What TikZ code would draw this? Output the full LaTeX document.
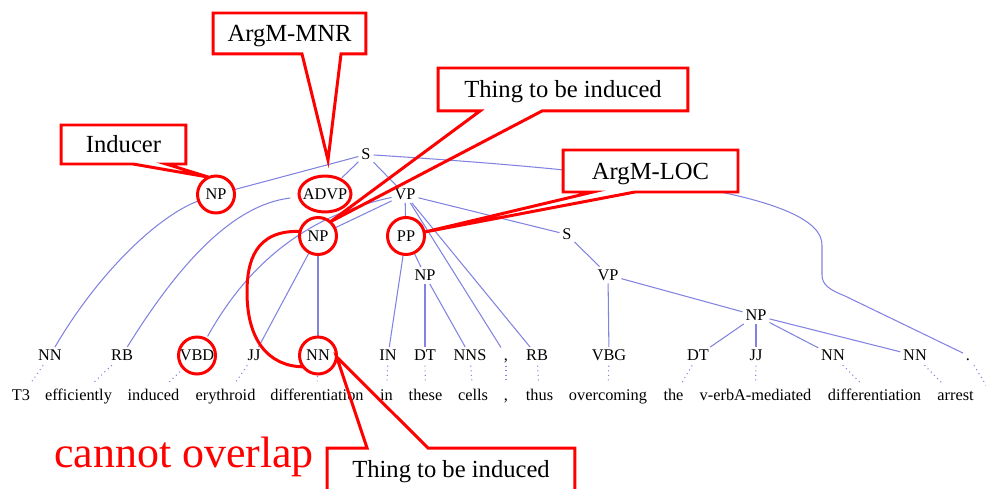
\documentclass[tikz,border=0pt]{standalone}
\usepackage{fontspec}
\setmainfont{Liberation Serif}
\usetikzlibrary{calc,shapes.geometric}
\definecolor{treeblue}{RGB}{130,130,225}
\tikzset{>=latex}
\tikzset{
    tag/.style={inner sep=1.5pt, text height=6.2pt, text depth=0pt, font=\fontsize{9.3}{11}\selectfont},
    ringed/.style={tag, circle, minimum size=0.74cm},
    word/.style={inner sep=1.5pt, text height=6.5pt, text depth=2pt, font=\fontsize{9.3}{11}\selectfont},
    branch/.style={treeblue, line width=0.6pt},
    leaf/.style={treeblue, line width=0.6pt, dotted, shorten <=1pt, shorten >=3pt},
    ring/.style={red, line width=1.7pt},
    calbox/.style={fill=white, inner sep=0pt, outer sep=0pt, text height=9.5pt, text depth=0pt, font=\fontsize{14}{16}\selectfont},
    callout/.style={red, line width=1.7pt}
}

\begin{document}
\begin{tikzpicture}[x=0.02cm, y=-0.02cm]
            \useasboundingbox (0,0) rectangle (986,489);
            % phrase nodes
            \node[tag] (s1) at (366,154.5) {S};
            \node[ringed] (np1) at (216,194.5) {NP};
            \node[tag, ellipse, minimum width=1.04cm, minimum height=0.72cm] (advp) at (325,194) {ADVP};
            \node[tag] (vp1) at (405,194.5) {VP};
            \node[ringed] (np2) at (318,236) {NP};
            \node[ringed] (pp) at (406,236) {PP};
            \node[tag] (np3) at (425,275.5) {NP};
            \node[tag] (s2) at (567,234.5) {S};
            \node[tag] (vp2) at (608,275) {VP};
            \node[tag] (np4) at (756,315.5) {NP};
            % part of speech
            \node[tag] (nn1) at (50,355.5) {NN};
            \node[tag] (rb1) at (122,355.5) {RB};
            \node[ringed] (vbd) at (197,355.5) {VBD};
            \node[tag] (jj1) at (254,355.5) {JJ};
            \node[ringed] (nn2) at (318,355.5) {NN};
            \node[tag] (inp) at (388,355.5) {IN};
            \node[tag] (dt1) at (425,355.5) {DT};
            \node[tag] (nns) at (470,355.5) {NNS};
            \node[tag] (comma) at (506,355.5) {,};
            \node[tag] (rb2) at (537,355.5) {RB};
            \node[tag] (vbg) at (609,355.5) {VBG};
            \node[tag] (dt2) at (698,355.5) {DT};
            \node[tag] (jj2) at (756,355.5) {JJ};
            \node[tag] (nn3) at (833,355.5) {NN};
            \node[tag] (nn4) at (915,355.5) {NN};
            \node[tag] (stop) at (968,355.5) {.};
            % words
            \node[word] (wt3) at (21,397) {T3};
            \node[word] (weff) at (78.5,397) {efficiently};
            \node[word] (wind) at (153.5,397) {induced};
            \node[word] (wery) at (225.5,397) {erythroid};
            \node[word] (wdiff) at (317,397) {differentiation};
            \node[word] (win) at (386.5,397) {in};
            \node[word] (wthese) at (425.5,397) {these};
            \node[word] (wcells) at (473,397) {cells};
            \node[word] (wcomma) at (506,397) {,};
            \node[word] (wthus) at (539.5,397) {thus};
            \node[word] (wover) at (608,397) {overcoming};
            \node[word] (wthe) at (673.5,397) {the};
            \node[word] (wverba) at (755.5,397) {v-erbA-mediated};
            \node[word] (wdiffb) at (874.5,397) {differentiation};
            \node[word] (warrest) at (955.5,397) {arrest};
            \coordinate (wstop) at (995,400);
            % branches
            \draw[branch] (s1) -- (np1);
            \draw[branch] (s1) -- (advp);
            \draw[branch] (s1) -- (vp1);
            \draw[branch] (s1) .. controls (640,172) and (822,195) .. (822,245) -- (822,275)
                .. controls (822,285) and (830,290) .. (845,296) -- (stop);
            \draw[branch] (np1) .. controls (160,215) and (100,270) .. (nn1);
            \draw[branch] (advp) .. controls (230,205) and (175,270) .. (rb1);
            \draw[branch] (vp1) .. controls (310,215) and (250,260) .. (vbd);
            \draw[branch] (vp1) -- (np2);
            \draw[branch] (vp1) -- (pp);
            \draw[branch] (vp1) -- (comma);
            \draw[branch] (vp1) -- (rb2);
            \draw[branch] (vp1) -- (s2);
            \draw[branch] (np2) -- (jj1);
            \draw[branch] (np2) -- (nn2);
            \draw[branch] (pp) -- (inp);
            \draw[branch] (pp) -- (np3);
            \draw[branch] (np3) -- (dt1);
            \draw[branch] (np3) -- (nns);
            \draw[branch] (s2) -- (vp2);
            \draw[branch] (vp2) -- (vbg);
            \draw[branch] (vp2) -- (np4);
            \draw[branch] (np4) -- (dt2);
            \draw[branch] (np4) -- (jj2);
            \draw[branch] (np4) -- (nn3);
            \draw[branch] (np4) -- (nn4);
            \foreach \p/\w in {nn1/wt3,rb1/weff,vbd/wind,jj1/wery,nn2/wdiff,inp/win,dt1/wthese,nns/wcells,comma/wcomma,rb2/wthus,vbg/wover,dt2/wthe,jj2/wverba,nn3/wdiffb,nn4/warrest,stop/wstop}
                \draw[leaf] (\p) -- (\w);
            % rings
            \foreach \n in {np1,np2,pp,vbd,nn2}
                \draw[ring] (\n.center) circle (18.5);
            \draw[ring] (advp.center) ellipse (26 and 18);
            \draw[ring] (np2.166) .. controls (255,230) and (247,262) .. (247,292)
                .. controls (247,340) and (268,366) .. (nn2.217);
            % callouts
            \coordinate (mnrtip) at (328,160);
            \node[calbox, minimum width=3.06cm, minimum height=0.82cm] (mnr) at (289.5,33.5) {ArgM-MNR};
            \node[calbox, minimum width=2.5cm, minimum height=0.78cm] (inducer) at (123.5,144.5) {Inducer};
            \node[calbox, minimum width=5cm, minimum height=0.86cm] (thinga) at (563,89.5) {Thing to be induced};
            \node[calbox, minimum width=3.5cm, minimum height=0.84cm] (loc) at (650.5,171) {ArgM-LOC};
            \node[calbox, minimum width=4.96cm, minimum height=0.86cm] (thingb) at (451,469.5) {Thing to be induced};
            \draw[callout] (mnr.south west) -- (mnr.north west) -- (mnr.north east) -- (mnr.south east)
                -- ($(mnr.south west)+(128,0)$) -- (mnrtip) -- ($(mnr.south west)+(89,0)$) -- cycle;
            \draw[callout] (inducer.south west) -- (inducer.north west) -- (inducer.north east) -- (inducer.south east)
                -- ($(inducer.south west)+(105,0)$) -- (np1.113) -- ($(inducer.south west)+(72,0)$) -- cycle;
            \draw[callout] (thinga.south west) -- (thinga.north west) -- (thinga.north east) -- (thinga.south east)
                -- ($(thinga.south west)+(104,0)$) -- (np2.49) -- ($(thinga.south west)+(42,0)$) -- cycle;
            \draw[callout] (loc.south west) -- (loc.north west) -- (loc.north east) -- (loc.south east)
                -- ($(loc.south west)+(72,0)$) -- (pp.12) -- ($(loc.south west)+(30,0)$) -- cycle;
            \draw[callout] (thingb.north west) -- ($(thingb.north west)+(40,0)$) -- (nn2.-5)
                -- ($(thingb.north west)+(101,0)$) -- (thingb.north east) -- (thingb.south east)
                -- (thingb.south west) -- cycle;
            \node[red, anchor=base, font=\fontsize{25}{30}\selectfont] (note) at (184,467) {cannot overlap};
\end{tikzpicture}
\end{document}
